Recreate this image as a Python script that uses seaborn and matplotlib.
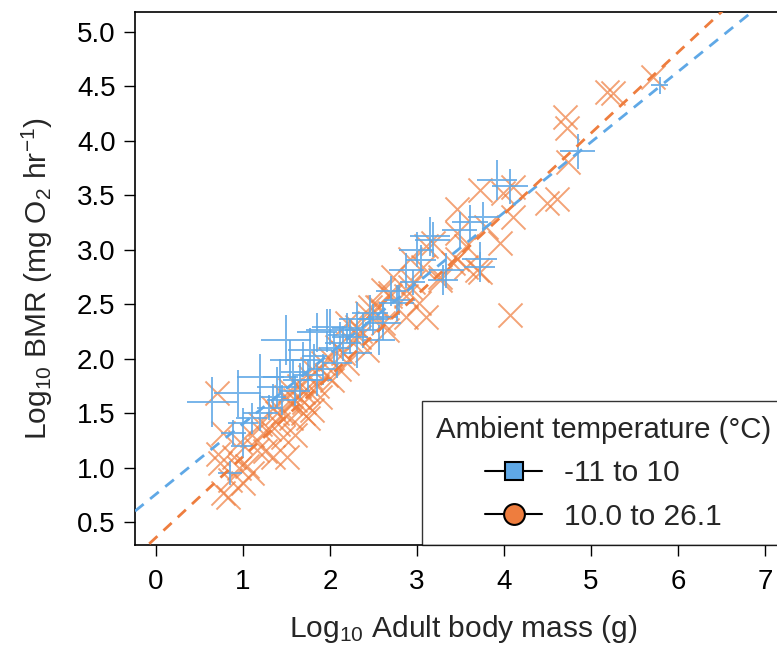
import numpy as np
import pandas as pd
import matplotlib
matplotlib.use("Agg")
import matplotlib.pyplot as plt
import seaborn as sns
from matplotlib.lines import Line2D

# ---- data ----
cold_mass = [0.64, 0.94, 1.00, 0.89, 0.85, 1.20, 1.20, 1.39, 1.43, 1.50, 1.54, 1.66, 1.69, 1.77,
             1.85, 1.85, 1.92, 1.97, 2.00, 2.08, 2.15, 2.23, 2.31, 2.31, 2.38, 2.46, 2.49, 2.57,
             2.61, 2.61, 2.77, 2.80, 2.88, 3.00, 3.15, 3.18, 3.30, 3.34, 3.49, 3.61, 3.72, 3.72,
             3.76, 3.92, 4.07, 4.85, 5.79, 1.30, 1.45, 1.60, 1.75, 2.05, 2.20, 1.10, 1.00, 2.70,
             3.05, 2.95, 1.35, 1.58, 1.82, 2.12]
cold_bmr = [1.60, 1.68, 1.41, 1.32, 0.95, 1.50, 1.83, 1.74, 1.83, 2.17, 1.99, 1.80, 1.99, 2.08,
            1.80, 2.24, 1.90, 2.26, 2.29, 1.96, 2.14, 2.20, 2.05, 2.36, 2.26, 2.42, 2.36, 2.17,
            2.33, 2.38, 2.51, 2.54, 2.81, 3.00, 3.12, 3.09, 2.72, 2.81, 3.18, 3.25, 2.91, 2.84,
            3.30, 3.64, 3.58, 3.90, 4.51, 1.55, 1.62, 1.70, 1.85, 2.10, 2.28, 1.45, 1.20, 2.62,
            2.90, 2.70, 1.65, 1.88, 2.02, 2.22]
cold_err = [1.0, 0.9, 0.5, 0.4, 0.4, 0.6, 0.9, 0.7, 0.6, 1.0, 0.7, 0.6, 0.6, 0.8,
            0.5, 0.7, 0.5, 0.8, 0.6, 0.5, 0.6, 0.6, 0.5, 0.6, 0.6, 0.6, 0.5, 0.5,
            0.6, 0.5, 0.6, 0.5, 0.6, 0.6, 0.7, 0.6, 0.5, 0.6, 0.6, 0.6, 0.6, 0.5,
            0.5, 0.7, 0.6, 0.6, 0.3, 0.4, 0.5, 0.5, 0.5, 0.5, 0.5, 0.5, 0.4, 0.5,
            0.5, 0.4, 0.4, 0.4, 0.4, 0.4]

warm_mass = [0.70, 0.71, 0.74, 0.77, 0.77, 0.83, 0.85, 0.97, 1.00, 1.05, 1.16, 1.23, 1.39, 1.46,
             1.51, 1.46, 1.54, 1.54, 1.69, 1.69, 1.77, 1.80, 1.89, 1.92, 2.03, 2.08, 2.20, 2.31,
             2.43, 2.46, 2.61, 2.69, 2.20, 2.34, 2.43, 2.57, 2.61, 2.66, 2.72, 2.88, 2.95, 2.69,
             2.54, 2.88, 3.03, 2.92, 3.26, 3.07, 3.41, 3.69, 3.18, 3.57, 3.46, 3.80, 3.72, 3.99,
             4.10, 2.92, 3.11, 3.26, 3.46, 3.57, 3.72, 3.11, 3.46, 3.95, 4.10, 4.07, 4.49, 4.61,
             4.74, 4.70, 4.72, 5.18, 5.25, 5.71,
             1.10, 1.20, 1.30, 1.35, 1.40, 1.50, 1.55, 1.60, 1.65, 1.70, 1.75, 1.80, 1.85, 1.95,
             2.00, 2.10, 2.15, 2.25, 2.35, 1.25, 1.35, 1.10, 0.95, 0.90, 1.60, 1.75]
warm_bmr = [1.68, 1.12, 1.04, 1.32, 0.77, 0.73, 0.89, 1.23, 0.86, 1.01, 1.16, 1.32, 1.50, 1.28,
            1.10, 1.50, 1.71, 1.59, 1.50, 1.69, 1.83, 1.53, 1.65, 1.96, 1.80, 2.11, 1.96, 2.29,
            2.08, 2.47, 2.33, 2.60, 2.33, 2.20, 2.42, 2.47, 2.63, 2.26, 2.75, 2.57, 2.70, 2.57,
            2.47, 2.38, 2.51, 2.66, 2.72, 2.84, 2.88, 2.81, 3.06, 3.03, 3.37, 3.21, 3.55, 3.52,
            3.57, 2.91, 3.03, 2.75, 2.91, 2.84, 2.79, 2.38, 3.15, 3.06, 3.30, 2.40, 3.43, 3.46,
            3.80, 4.22, 4.12, 4.45, 4.44, 4.58,
            1.30, 1.40, 1.35, 1.55, 1.40, 1.65, 1.45, 1.62, 1.75, 1.60, 1.70, 1.90, 1.75, 1.85,
            2.00, 1.90, 2.05, 2.15, 2.25, 1.15, 1.10, 0.95, 1.00, 1.10, 1.30, 1.45]

# fitted regression lines (intercept, slope)
cold_fit = (0.755, 0.646)
warm_fit = (0.357, 0.742)

group_labels = ["-11 to 10", "10.0 to 26.1"]
legend_title = "Ambient temperature (\u00b0C)"
x_ticks = [0, 1, 2, 3, 4, 5, 6, 7]
y_ticks = [0.5, 1.0, 1.5, 2.0, 2.5, 3.0, 3.5, 4.0, 4.5, 5.0]

# ---- styling ----
sns.set_theme(style="white")
plt.rcParams["font.family"] = ["Liberation Sans", "DejaVu Sans"]
plt.rcParams["mathtext.fontset"] = "custom"
plt.rcParams["mathtext.rm"] = "Liberation Sans"
plt.rcParams["mathtext.it"] = "Liberation Sans:italic"
plt.rcParams["mathtext.bf"] = "Liberation Sans:bold"

BLUE = "#5FA8E6"
ORANGE = "#EE7D3E"

fig = plt.figure(figsize=(7.77, 6.47), dpi=100)
ax = fig.add_axes([135 / 777, 102 / 647, 656 / 777, 533 / 647])

cold = pd.DataFrame({"mass": cold_mass, "bmr": cold_bmr, "err": cold_err})
warm = pd.DataFrame({"mass": warm_mass, "bmr": warm_bmr})

sns.scatterplot(data=warm, x="mass", y="bmr", marker="x", s=300, color=ORANGE,
                alpha=0.7, linewidth=1.4, ax=ax, legend=False, zorder=2)
sns.scatterplot(data=cold, x="mass", y="bmr", size="err", sizes=(150, 1300),
                marker="+", color=BLUE, alpha=0.85, linewidth=1.4, ax=ax,
                legend=False, zorder=3)

xlim = (-0.24, 7.3)
ylim = (0.289, 5.18)
xs = np.linspace(xlim[0], xlim[1], 50)
ax.plot(xs, cold_fit[0] + cold_fit[1] * xs, ls=(0, (4, 3)), color=BLUE, lw=2, zorder=4)
ax.plot(xs, warm_fit[0] + warm_fit[1] * xs, ls=(0, (4, 3)), color=ORANGE, lw=2, zorder=4)

ax.set_xlim(*xlim)
ax.set_ylim(*ylim)
ax.set_xticks(x_ticks)
ax.set_yticks(y_ticks)
ax.set_yticklabels([f"{v:.1f}" for v in y_ticks])
ax.tick_params(axis="both", direction="out", length=8, width=1, colors="black",
               labelsize=20, pad=6, bottom=True, left=True)
ax.tick_params(axis="x", pad=9)
for sp in ax.spines.values():
    sp.set_color("black")
    sp.set_linewidth(1.2)

ax.set_xlabel("Log$_{10}$ Adult body mass (g)", fontsize=21.5, labelpad=13)
ax.set_ylabel("Log$_{10}$ BMR (mg O$_2$ hr$^{-1}$)", fontsize=21.5, labelpad=16)

handles = [
    Line2D([0], [0], color="black", lw=1.5, marker="s", markersize=13,
           markerfacecolor=BLUE, markeredgecolor="black", markeredgewidth=1.5),
    Line2D([0], [0], color="black", lw=1.5, marker="o", markersize=15,
           markerfacecolor=ORANGE, markeredgecolor="black", markeredgewidth=1.5),
]
leg = ax.legend(handles, group_labels, title=legend_title, loc="lower left",
                bbox_to_anchor=(0.437, 0.0), borderaxespad=0, fontsize=21.5,
                title_fontsize=21.2, frameon=True, fancybox=False, edgecolor="black",
                handlelength=1.9, handletextpad=0.75, labelspacing=0.52,
                borderpad=0.48)
leg.get_frame().set_linewidth(1.0)
leg.set_zorder(10)

fig.savefig("out.png", dpi=100)
